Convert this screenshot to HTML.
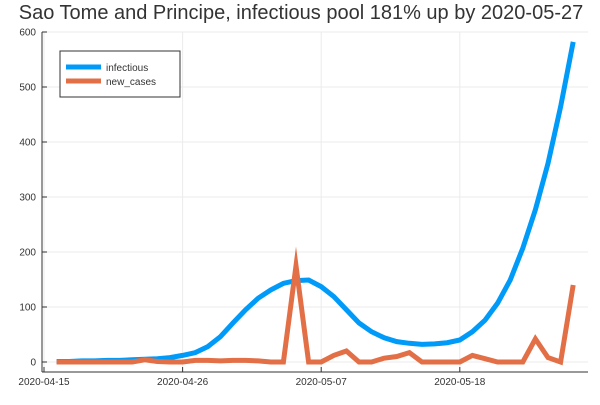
<!DOCTYPE html>
<html><head><meta charset="utf-8"><style>
body{margin:0;background:#fff;}
svg text{font-family:"Liberation Sans",sans-serif;}
</style></head><body>
<svg id="chart" width="600" height="400" xmlns="http://www.w3.org/2000/svg">
<text x="301" y="19" font-size="20" text-anchor="middle" fill="#333">Sao Tome and Principe, infectious pool 181% up by 2020-05-27</text>
<g id="grid"></g><g id="axes"></g><g id="series"></g>
<g>
<rect x="60" y="51" width="120" height="46" fill="#fff" stroke="#333" stroke-width="1"/>
<line x1="66" y1="67" x2="101" y2="67" stroke="#009af9" stroke-width="5"/>
<text x="106" y="71" font-size="10" fill="#333">infectious</text>
<line x1="66" y1="81" x2="101" y2="81" stroke="#e26f46" stroke-width="5"/>
<text x="106" y="85" font-size="10" fill="#333">new_cases</text>
</g>
</svg>
<script>
const days = Array.from({length:42},(_,i)=>i+1);
const infectious = [1,1,2,2,3,3,4,5,6,8,12,17,28,46,71,95,116,131,143,148,149,137,119,95,71,55,44,37,34,32,33,35,40,55,76,107,149,207,277,361,464,582];
const newCases = [0,0,0,0,0,0,0,4,1,0,0,3,3,2,3,3,2,0,0,175,0,0,12,20,0,0,7,10,17,0,0,0,0,12,6,0,0,0,42,8,0,140];
const yTicks = [0,100,200,300,400,500,600];
const xTickDays = [0,11,22,33];
const xTickLabels = ["2020-04-15","2020-04-26","2020-05-07","2020-05-18"];
const X0=44, DX=12.6, Y0=362, YK=0.55;
const xs=d=>X0+DX*d, ys=v=>Y0-YK*v;
const ns="http://www.w3.org/2000/svg";
function mk(tag,attrs,parent){const e=document.createElementNS(ns,tag);for(const k in attrs)e.setAttribute(k,attrs[k]);parent.appendChild(e);return e;}
const grid=document.getElementById('grid'),axes=document.getElementById('axes'),series=document.getElementById('series');
yTicks.forEach(t=>{
  const g=mk('line',{x1:42,x2:588,y1:ys(t),y2:ys(t),stroke:'#ebebeb','stroke-width':1},grid);
  
  
  const tk=mk('line',{x1:42,x2:47,y1:ys(t),y2:ys(t),stroke:'#333'},axes);
  
  
  const tx=mk('text',{x:36,y:ys(t)+3.5,'font-size':10,'text-anchor':'end',fill:'#333'},axes);
  tx.textContent=t;
  
  
});
xTickDays.forEach((d,i)=>{
  const g=mk('line',{x1:xs(d),x2:xs(d),y1:32,y2:372,stroke:'#ebebeb'},grid);
  
  
  const tk=mk('line',{x1:xs(d),x2:xs(d),y1:367,y2:372,stroke:'#333'},axes);
  
  
  const tx=mk('text',{x:xs(d),y:385,'font-size':10,'text-anchor':'middle',fill:'#333'},axes);
  tx.textContent=xTickLabels[i];
  
  
});
const ya=mk('line',{x1:42,x2:42,y1:32,y2:372,stroke:'#333'},axes);


const xa=mk('line',{x1:42,x2:588,y1:372,y2:372,stroke:'#333'},axes);


function line(vals,color,name){
  const p=mk('polyline',{points:days.map((d,i)=>xs(d)+','+ys(vals[i])).join(' '),fill:'none',stroke:color,'stroke-width':5,'stroke-linejoin':'miter','stroke-miterlimit':10},series);
  
  
}
line(infectious,'#009af9','infectious-line');
line(newCases,'#e26f46','new-cases-line');
</script>
</body></html>
